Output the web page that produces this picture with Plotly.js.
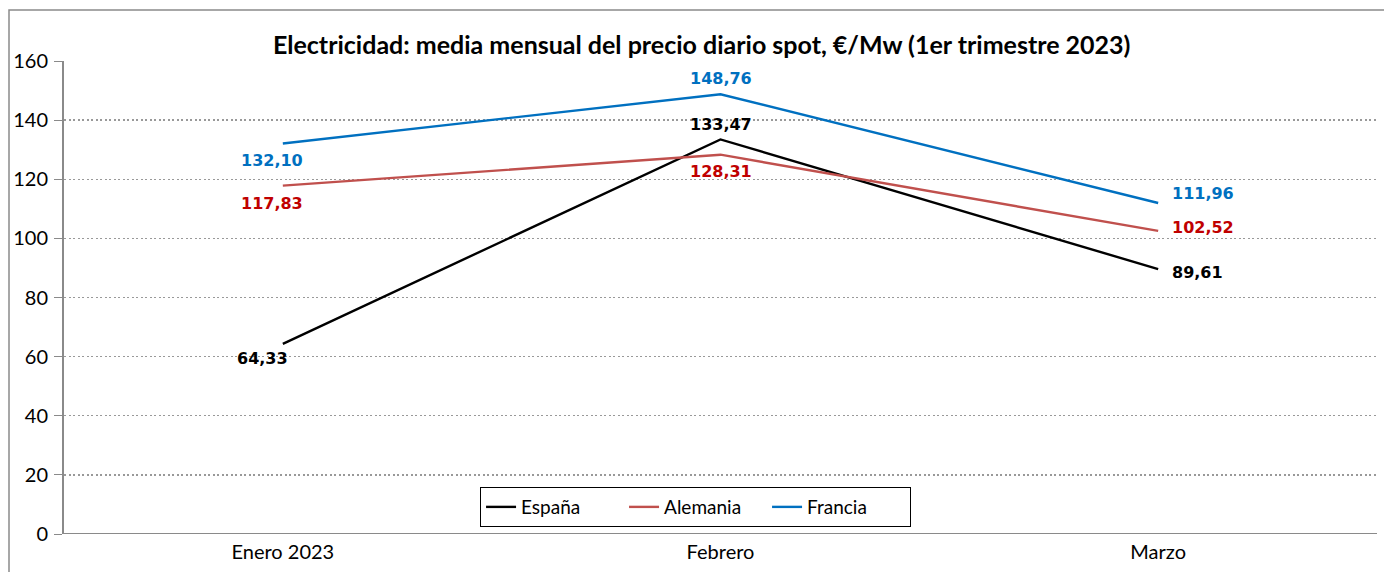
<!DOCTYPE html>
<html><head><meta charset="utf-8">
<script src="https://cdn.plot.ly/plotly-3.0.1.min.js"></script>
<style>html,body{margin:0;padding:0;background:#fff}#chart{width:1384px;height:572px}</style>
</head><body><div id="chart"></div>
<script>
var categories = ["Enero 2023", "Febrero", "Marzo"];
var espana   = [64.33, 133.47, 89.61];
var alemania = [117.83, 128.31, 102.52];
var francia  = [132.10, 148.76, 111.96];
var seriesNames = ["España", "Alemania", "Francia"];
var yTicks = [0, 20, 40, 60, 80, 100, 120, 140, 160];

function fmt(v){ return v.toFixed(2).replace('.', ','); }

var lineColors = ["#000000", "#C0504D", "#0070C0"];
var labelColors = ["#000000", "#C00000", "#0070C0"];
var seriesData = [espana, alemania, francia];

var traces = seriesData.map(function(d, i){
  return {x: categories, y: d, name: seriesNames[i], type: 'scatter', mode: 'lines',
          line: {color: lineColors[i], width: 2.4}, hoverinfo: 'skip'};
});

// label placement per series/point: [xanchor, yanchor, xshift, yshift]
var place = [
  [["center","top",-20,-3], ["center","bottom",0,3], ["left","middle",12,-3]],
  [["center","top",-11,-6], ["center","top",0,-5], ["left","middle",12,3]],
  [["center","top",-11,-6], ["center","bottom",0,4], ["left","middle",12,10]]
];
var annotations = [];
seriesData.forEach(function(d, i){
  d.forEach(function(v, j){
    var p = place[i][j];
    annotations.push({x: categories[j], y: v, xref: 'x', yref: 'y', text: fmt(v), showarrow: false,
      xanchor: p[0], yanchor: p[1], xshift: p[2], yshift: p[3],
      font: {family: 'DejaVu Sans, Verdana, sans-serif', size: 16, color: labelColors[i], weight: 'bold'}});
  });
});

var layout = {
  width: 1384, height: 572,
  margin: {l: 64, r: 7, t: 61, b: 38},
  paper_bgcolor: '#fff', plot_bgcolor: '#fff',
  font: {family: 'Lato, Carlito, Calibri, sans-serif', color: '#000'},
  title: {text: '<b>Electricidad: media mensual del precio diario spot, €/Mw (1er trimestre 2023)</b>',
          x: 0.507, xanchor: 'center', y: 0.921, yanchor: 'middle', yref: 'container',
          font: {size: 25, family: 'Lato, Carlito, Calibri, sans-serif', color: '#000'}},
  xaxis: {type: 'category', range: [-0.5, 2.5], showgrid: false, zeroline: false,
          showline: false, ticks: '', tickfont: {size: 20}, ticklabelstandoff: 4, fixedrange: true},
  yaxis: {range: [0, 160], tickvals: yTicks, ticktext: yTicks.map(String), showgrid: true,
          gridcolor: '#999999', griddash: '2px,2.5px', gridwidth: 1.3, zeroline: false,
          showline: true, linecolor: '#8a8a8a', linewidth: 2, ticks: 'outside', ticklen: 8,
          tickcolor: '#8a8a8a', tickwidth: 1, tickfont: {size: 20}, ticklabelstandoff: 2, fixedrange: true},
  legend: {orientation: 'h', x: 0.481, xanchor: 'center', y: 0.057, yanchor: 'middle',
           bordercolor: '#000', borderwidth: 1, bgcolor: '#fff', font: {size: 19},
           entrywidth: 98, entrywidthmode: 'pixels', tracegroupgap: 0},
  shapes: [
    {type: 'line', xref: 'paper', yref: 'y', x0: 0, x1: 1, y0: 0, y1: 0, line: {color: '#8a8a8a', width: 2}},
    {type: 'rect', xref: 'paper', yref: 'paper', x0: (9-64)/1313, x1: (1400-64)/1313,
     y0: (534-590)/473, y1: (534-10)/473, line: {color: '#8a8a8a', width: 1.5}, layer: 'below'}
  ],
  annotations: annotations,
  showlegend: true
};
Plotly.newPlot('chart', traces, layout, {displayModeBar: false, staticPlot: true});
</script></body></html>
